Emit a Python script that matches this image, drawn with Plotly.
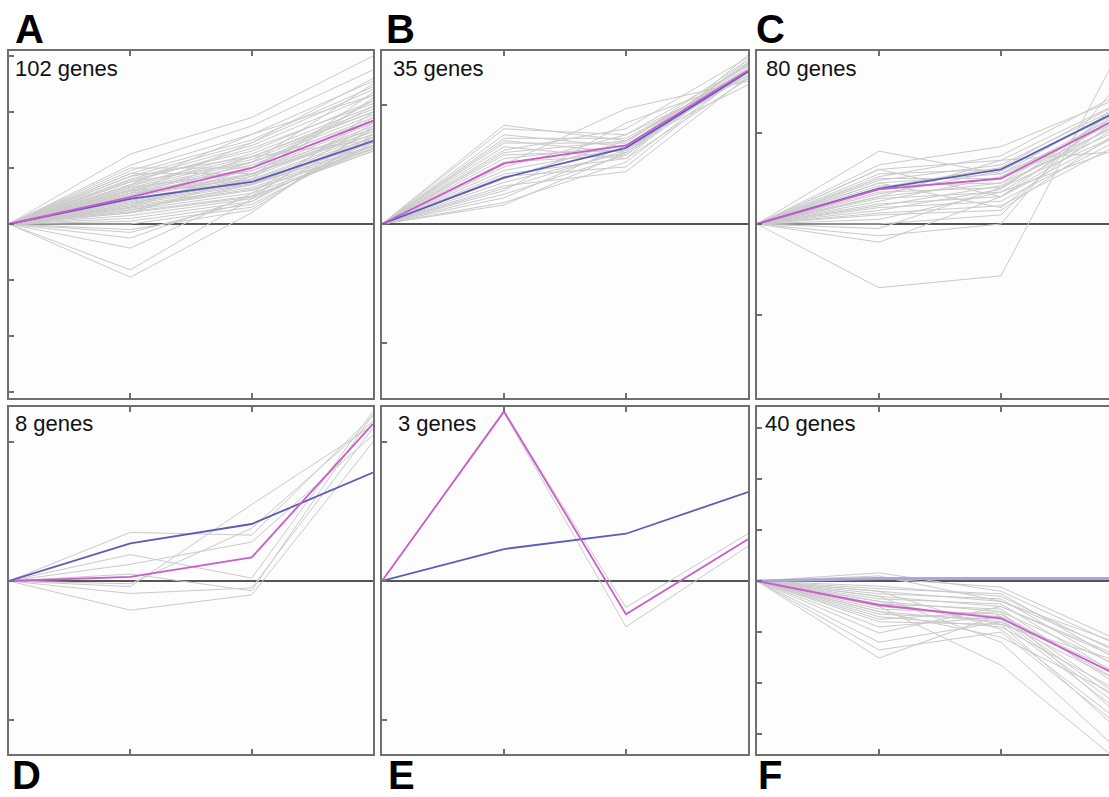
import plotly.graph_objects as go

W, H = 1109, 797

# x positions (time points)
time_points = [0, 1, 2, 3]

# ---------------- Panel A: 102 genes ----------------
A_mean = [0, 0.48, 1.00, 1.84]
A_model = [0, 0.45, 0.75, 1.48]
A_genes = [
    [0, 1.25, 1.90, 3.00], [0, 1.05, 1.75, 2.75], [0, 0.95, 1.60, 2.55], [0, 0.90, 1.50, 2.45],
    [0, 0.85, 1.45, 2.40], [0, 0.80, 1.40, 2.30], [0, 0.78, 1.30, 2.20], [0, 0.75, 1.35, 2.15],
    [0, 0.70, 1.25, 2.10], [0, 0.68, 1.20, 2.05], [0, 0.65, 1.15, 2.00], [0, 0.62, 1.10, 1.95],
    [0, 0.60, 1.05, 1.90], [0, 0.58, 1.00, 1.85], [0, 0.55, 0.95, 1.80], [0, 0.52, 0.90, 1.75],
    [0, 0.50, 0.88, 1.70], [0, 0.48, 0.85, 1.65], [0, 0.45, 0.80, 1.60], [0, 0.42, 0.78, 1.55],
    [0, 0.40, 0.75, 1.50], [0, 0.38, 0.72, 1.45], [0, 0.35, 0.70, 1.40], [0, 0.32, 0.65, 1.38],
    [0, 0.30, 0.62, 1.35], [0, 0.28, 0.60, 1.33], [0, 0.25, 0.55, 1.30], [0, 0.22, 0.50, 1.30],
    [0, 0.20, 0.48, 1.35], [0, 0.15, 0.45, 1.40], [0, 0.10, 0.40, 1.50], [0, 0.05, 0.35, 1.45],
    [0, 0.00, 0.30, 1.55], [0, -0.10, 0.25, 1.60], [0, -0.15, 0.40, 1.70], [0, -0.25, 0.50, 1.80],
    [0, -0.43, 0.55, 1.90], [0, -0.82, 0.45, 2.00], [0, -0.95, 0.20, 1.75], [0, 0.90, 0.90, 1.60],
    [0, 0.70, 1.60, 2.30], [0, 0.55, 1.45, 2.60], [0, 0.30, 1.00, 2.10], [0, 0.60, 0.70, 1.40],
    [0, 0.85, 1.20, 1.50], [0, 0.45, 1.10, 2.50], [0, 1.00, 1.00, 2.20], [0, 0.20, 0.85, 2.35],
    [0, 0.65, 0.95, 1.70], [0, 0.50, 1.20, 2.00], [0, 0.35, 0.90, 1.65], [0, 0.75, 1.10, 1.85],
    [0, 0.25, 0.70, 1.55], [0, 0.55, 0.80, 2.25],
]

# ---------------- Panel B: 35 genes ----------------
B_mean = [0, 0.51, 0.66, 1.29]
B_model = [0, 0.39, 0.64, 1.28]
B_genes = [
    [0, 0.83, 0.70, 1.30], [0, 0.80, 0.75, 1.25], [0, 0.75, 0.65, 1.35], [0, 0.72, 0.72, 1.28],
    [0, 0.70, 0.60, 1.32], [0, 0.68, 0.68, 1.38], [0, 0.65, 0.55, 1.22], [0, 0.62, 0.80, 1.40],
    [0, 0.60, 0.70, 1.30], [0, 0.58, 0.62, 1.27], [0, 0.55, 0.66, 1.35], [0, 0.52, 0.58, 1.30],
    [0, 0.50, 0.97, 1.20], [0, 0.48, 0.75, 1.33], [0, 0.45, 0.64, 1.25], [0, 0.42, 0.55, 1.42],
    [0, 0.40, 0.48, 1.30], [0, 0.38, 0.70, 1.28], [0, 0.35, 0.60, 1.36], [0, 0.32, 0.44, 1.24],
    [0, 0.30, 0.62, 1.30], [0, 0.28, 0.85, 1.22], [0, 0.25, 0.58, 1.38], [0, 0.22, 0.66, 1.17],
    [0, 0.18, 0.52, 1.30], [0, 0.16, 0.60, 1.34],
]

# ---------------- Panel C: 80 genes ----------------
C_mean = [0, 0.38, 0.50, 1.19]
C_model = [0, 0.39, 0.60, 1.27]
C_genes = [
    [0, 0.80, 0.55, 1.30], [0, 0.65, 0.85, 1.40], [0, 0.60, 0.70, 1.35], [0, 0.55, 0.60, 1.25],
    [0, 0.52, 0.75, 1.45], [0, 0.50, 0.50, 1.20], [0, 0.48, 0.65, 1.30], [0, 0.45, 0.55, 1.15],
    [0, 0.42, 0.45, 1.25], [0, 0.40, 0.62, 1.35], [0, 0.38, 0.50, 1.10], [0, 0.35, 0.40, 1.20],
    [0, 0.33, 0.58, 1.28], [0, 0.30, 0.45, 1.05], [0, 0.28, 0.35, 1.15], [0, 0.25, 0.52, 1.22],
    [0, 0.22, 0.30, 1.00], [0, 0.20, 0.42, 1.12], [0, 0.18, 0.25, 0.95], [0, 0.15, 0.38, 1.30],
    [0, 0.12, 0.20, 0.90], [0, 0.10, 0.15, 1.05], [0, 0.05, 0.35, 0.85], [0, 0.00, 0.10, 1.40],
    [0, -0.05, 0.40, 1.00], [0, -0.13, 0.00, 1.60], [0, -0.20, 0.30, 1.10], [0, -0.70, -0.57, 1.98],
    [0, 0.45, 0.18, 1.20], [0, 0.60, 0.30, 1.25], [0, 0.30, 0.70, 0.80],
]

# ---------------- Panel D: 8 genes ----------------
D_mean = [0, 0.03, 0.17, 1.13]
D_model = [0, 0.27, 0.41, 0.78]
D_genes = [
    [0, 0.35, 0.33, 1.19], [0, 0.19, 0.02, 1.22], [0, 0.12, 0.28, 1.05], [0, -0.02, 0.38, 1.15],
    [0, -0.09, -0.05, 1.10], [0, -0.21, -0.10, 1.00], [0, 0.05, -0.07, 1.20], [0, -0.04, 0.55, 1.12],
]

# ---------------- Panel E: 3 genes ----------------
E_mean = [0, 1.22, -0.24, 0.30]
E_model = [0, 0.23, 0.34, 0.64]
E_genes = [
    [0, 1.22, -0.19, 0.34], [0, 1.21, -0.33, 0.25], [0, 1.22, -0.24, 0.30],
]

# ---------------- Panel F: 40 genes ----------------
F_mean = [0, -0.47, -0.73, -1.90]
F_model = [0, 0.05, 0.05, 0.05]
F_genes = [
    [0, 0.16, -0.20, -1.30], [0, 0.05, -0.12, -1.20], [0, -0.10, -0.30, -1.45], [0, -0.15, -0.25, -1.60],
    [0, -0.20, -0.40, -1.40], [0, -0.25, -0.35, -1.75], [0, -0.30, -0.50, -1.55], [0, -0.35, -0.45, -1.90],
    [0, -0.40, -0.60, -1.70], [0, -0.45, -0.55, -2.10], [0, -0.50, -0.70, -1.85], [0, -0.55, -0.65, -2.30],
    [0, -0.60, -0.80, -2.00], [0, -0.65, -0.75, -2.50], [0, -0.70, -0.90, -2.20], [0, -0.75, -0.60, -2.70],
    [0, -0.80, -0.85, -1.60], [0, -0.90, -0.70, -2.40], [0, -1.02, -0.50, -1.50], [0, -1.20, -0.80, -2.60],
    [0, -1.35, -1.00, -2.90], [0, -1.51, -0.65, -2.00], [0, -0.30, -1.20, -3.40], [0, -0.50, -1.65, -3.60],
    [0, -0.20, -0.95, -2.80], [0, 0.10, -0.40, -1.25], [0, -0.40, -0.85, -3.00], [0, -0.60, -1.10, -2.30],
]

panel_letters = ["A", "B", "C", "D", "E", "F"]
gene_counts = ["102 genes", "35 genes", "80 genes", "8 genes", "3 genes", "40 genes"]

panels = [
    (A_genes, A_mean, A_model), (B_genes, B_mean, B_model), (C_genes, C_mean, C_model),
    (D_genes, D_mean, D_model), (E_genes, E_mean, E_model), (F_genes, F_mean, F_model),
]
y_ranges = [[-3.107, 3.089], [-1.462, 1.454], [-1.912, 1.901],
            [-1.245, 1.252], [-1.245, 1.252], [-3.39, 3.41]]
y_ticks = [[-3, -2, -1, 0, 1, 2, 3], [-1, 0, 1], [-1, 0, 1],
           [-1, 0, 1], [-1, 0, 1], [-3, -2, -1, 0, 1, 2, 3]]

# pixel layout
col_px = [(9, 373), (382, 748), (757, 1123)]
row_px = [(51, 398), (407, 754)]

GRAY = "#cacaca"
MAGENTA = "#cc5ccc"
BLUE = "#5c5cb8"
FRAME = "#6f6f6f"

fig = go.Figure()
layout = dict(
    width=W, height=H, margin=dict(l=0, r=0, t=0, b=0),
    paper_bgcolor="white", plot_bgcolor="#fdfdfd", showlegend=False,
)

for i, (genes, mean, model) in enumerate(panels):
    r, c = divmod(i, 3)
    ax = "" if i == 0 else str(i + 1)
    xa, ya = "x" + ax, "y" + ax
    for g in genes:
        fig.add_trace(go.Scatter(x=time_points, y=g, mode="lines", xaxis=xa, yaxis=ya,
                                 line=dict(color=GRAY, width=1), hoverinfo="skip"))
    fig.add_trace(go.Scatter(x=time_points, y=model, mode="lines", xaxis=xa, yaxis=ya,
                             line=dict(color=BLUE if i != 5 else "#a8a8d8", width=1.8 if i != 5 else 3)))
    fig.add_trace(go.Scatter(x=time_points, y=mean, mode="lines", xaxis=xa, yaxis=ya,
                             line=dict(color=MAGENTA, width=1.8)))

    x0p, x1p = col_px[c]
    y0p, y1p = row_px[r]
    clipped = x1p > W
    xdom = [x0p / W, min(x1p, W) / W]
    xmax = 3 * (min(x1p, W) - x0p) / (x1p - x0p)
    ydom = [1 - y1p / H, 1 - y0p / H]
    layout["xaxis" + ax] = dict(
        domain=xdom, range=[0, xmax], anchor=ya, tickvals=[1, 2], ticks="inside", ticklen=5,
        tickcolor=FRAME, tickwidth=1.5, showticklabels=False, showgrid=False, zeroline=False,
        showline=True, linecolor=FRAME, linewidth=2, mirror="ticks", fixedrange=True,
    )
    layout["yaxis" + ax] = dict(
        domain=ydom, range=y_ranges[i], anchor=xa, tickvals=y_ticks[i], ticks="inside", ticklen=5,
        tickcolor=FRAME, tickwidth=1.5, showticklabels=False, showgrid=False,
        zeroline=True, zerolinecolor="#555555", zerolinewidth=1.5,
        showline=True, linecolor=FRAME, linewidth=2, mirror=(False if clipped else True), fixedrange=True,
    )

annotations = []
letter_pos = [(13, 29), (384, 29), (754, 29), (10, 775), (386, 775), (756, 775)]
count_pos = [(13, 68), (391, 68), (764, 68), (13, 423), (396, 423), (763, 423)]
for i in range(6):
    lx, ly = letter_pos[i]
    annotations.append(dict(text="<b>" + panel_letters[i] + "</b>", x=lx / W, y=1 - ly / H,
                            xref="paper", yref="paper", xanchor="left", yanchor="middle",
                            showarrow=False, font=dict(family="Liberation Sans", size=40, color="black")))
    cx, cy = count_pos[i]
    annotations.append(dict(text=gene_counts[i], x=cx / W, y=1 - cy / H,
                            xref="paper", yref="paper", xanchor="left", yanchor="middle",
                            showarrow=False, font=dict(family="Liberation Sans", size=22, color="#111111")))
layout["annotations"] = annotations

fig.update_layout(**layout)
fig.write_html("out.html", config={"displayModeBar": False},
               post_script="document.body.style.margin='0';document.body.style.overflow='hidden';")
